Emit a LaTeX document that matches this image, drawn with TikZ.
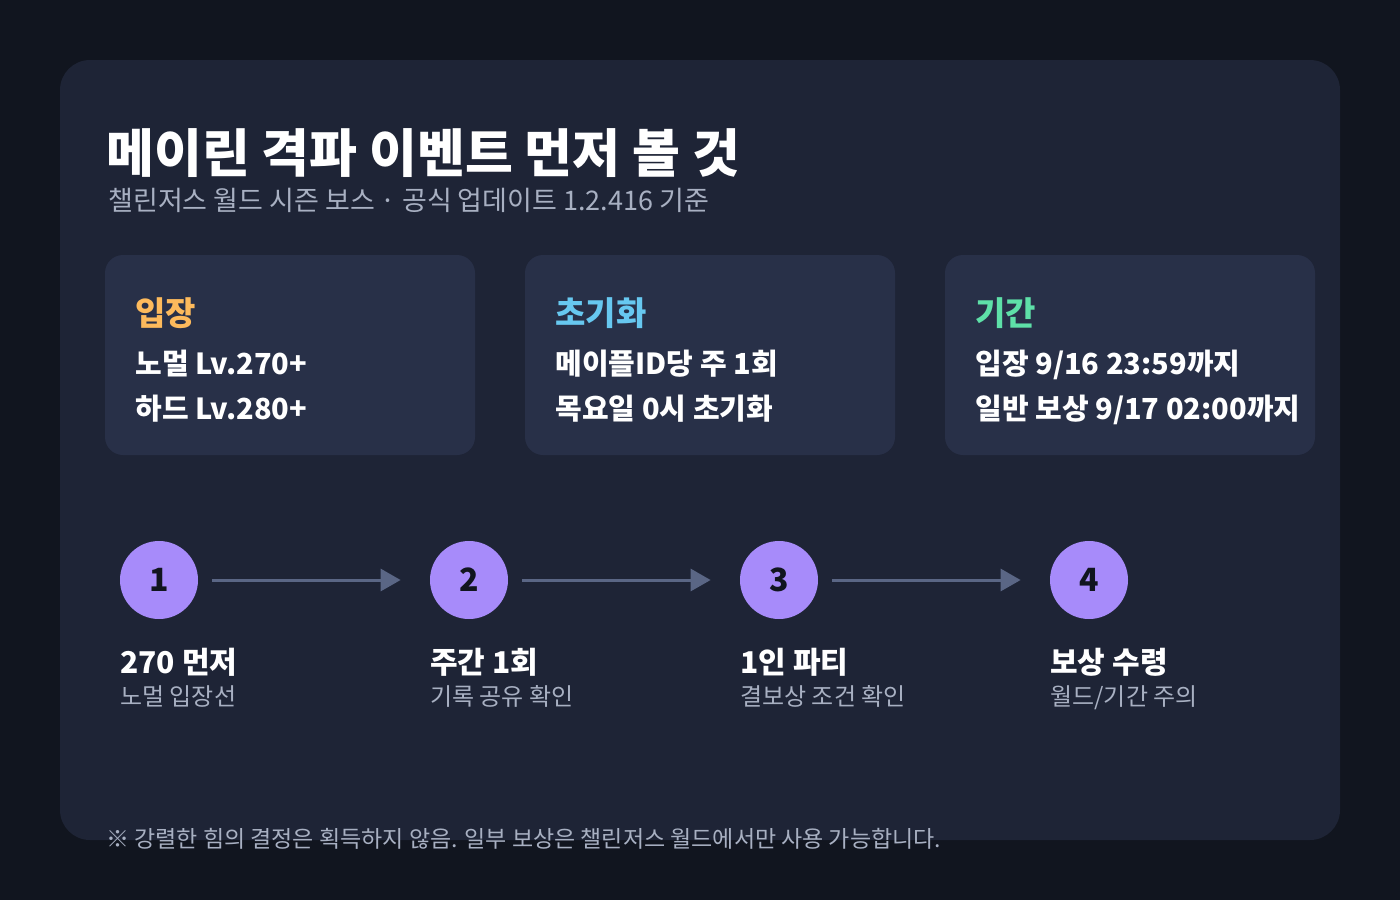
\documentclass[tikz,border=0pt]{standalone}
\usepackage{fontspec}
\setmainfont{Noto Sans CJK KR}
\usetikzlibrary{arrows.meta}
\definecolor{bgdark}{HTML}{11151F}
\definecolor{panelbg}{HTML}{1E2436}
\definecolor{cardbg}{HTML}{283048}
\definecolor{stepviolet}{HTML}{A78BFA}
\definecolor{arrowgray}{HTML}{5A6685}
\definecolor{subgray}{HTML}{A8B0C2}
\definecolor{headorange}{HTML}{FDBA5C}
\definecolor{headcyan}{HTML}{67C8F0}
\definecolor{headgreen}{HTML}{5EE0A8}
\tikzset{every picture/.style={line width=0.75pt}}
\tikzset{
  card/.style={fill=cardbg, rounded corners=18pt},
  cardhead/.style={anchor=base west, inner sep=0pt, font=\fontsize{33}{38}\selectfont\bfseries},
  cardline/.style={anchor=base west, inner sep=0pt, text=white, font=\fontsize{29}{34}\selectfont\bfseries},
  stepdot/.style={circle, fill=stepviolet, minimum size=78pt, inner sep=0pt, font=\fontsize{32}{36}\selectfont\bfseries, text=bgdark},
  steptitle/.style={anchor=base west, inner sep=0pt, text=white, font=\fontsize{30}{34}\selectfont\bfseries},
  stepsub/.style={anchor=base west, inner sep=0pt, text=subgray, font=\fontsize{24}{28}\selectfont},
  flow/.style={draw=arrowgray, line width=3pt, shorten <=14pt, shorten >=29pt, -{Triangle[length=20pt,width=22pt]}}
}
\begin{document}
\begin{tikzpicture}[x=1pt,y=-1pt]
\fill[bgdark] (0,0) rectangle (1400,900);
\useasboundingbox (0,0) rectangle (1400,900);
% panel
\fill[panelbg, rounded corners=30pt] (60,60) rectangle (1340,840);

% Title
\node (title) [anchor=base west, inner sep=0pt, text=white, font=\fontsize{52}{58}\selectfont\bfseries] at (106,172) {메이린 격파 이벤트 먼저 볼 것};
\node (subtitle) [anchor=base west, inner sep=0pt, text=subgray, font=\fontsize{27}{32}\selectfont] at (108,210) {챌린저스 월드 시즌 보스 · 공식 업데이트 1.2.416 기준};

% cards
\fill[card] (105,255) rectangle (475,455);
\fill[card] (525,255) rectangle (895,455);
\fill[card] (945,255) rectangle (1315,455);

\node (head1) [cardhead, text=headorange] at (135,325) {입장};
\node (line1a) [cardline] at (135,374) {노멀 Lv.270+};
\node (line1b) [cardline] at (135,419) {하드 Lv.280+};

\node (head2) [cardhead, text=headcyan] at (555,325) {초기화};
\node (line2a) [cardline] at (555,374) {메이플ID당 주 1회};
\node (line2b) [cardline] at (555,419) {목요일 0시 초기화};

\node (head3) [cardhead, text=headgreen] at (975,325) {기간};
\node (line3a) [cardline] at (975,374) {입장 9/16 23:59까지};
\node (line3b) [cardline] at (975,419) {일반 보상 9/17 02:00까지};

% steps
\node (step1) [stepdot] at (159,580) {1};
\node (step2) [stepdot] at (469,580) {2};
\node (step3) [stepdot] at (779,580) {3};
\node (step4) [stepdot] at (1089,580) {4};

\draw[flow] (step1) -- (step2);
\draw[flow] (step2) -- (step3);
\draw[flow] (step3) -- (step4);

\node (title1) [steptitle] at (120,673) {270 먼저};
\node (sub1) [stepsub] at (120,705) {노멀 입장선};
\node (title2) [steptitle] at (430,673) {주간 1회};
\node (sub2) [stepsub] at (430,705) {기록 공유 확인};
\node (title3) [steptitle] at (740,673) {1인 파티};
\node (sub3) [stepsub] at (740,705) {결보상 조건 확인};
\node (title4) [steptitle] at (1050,673) {보상 수령};
\node (sub4) [stepsub] at (1050,705) {월드/기간 주의};

% footer
\node (footer) [anchor=base west, inner sep=0pt, text=subgray, font=\fontsize{23}{27}\selectfont] at (106,847) {※ 강렬한 힘의 결정은 획득하지 않음. 일부 보상은 챌린저스 월드에서만 사용 가능합니다.};
\end{tikzpicture}
\end{document}
